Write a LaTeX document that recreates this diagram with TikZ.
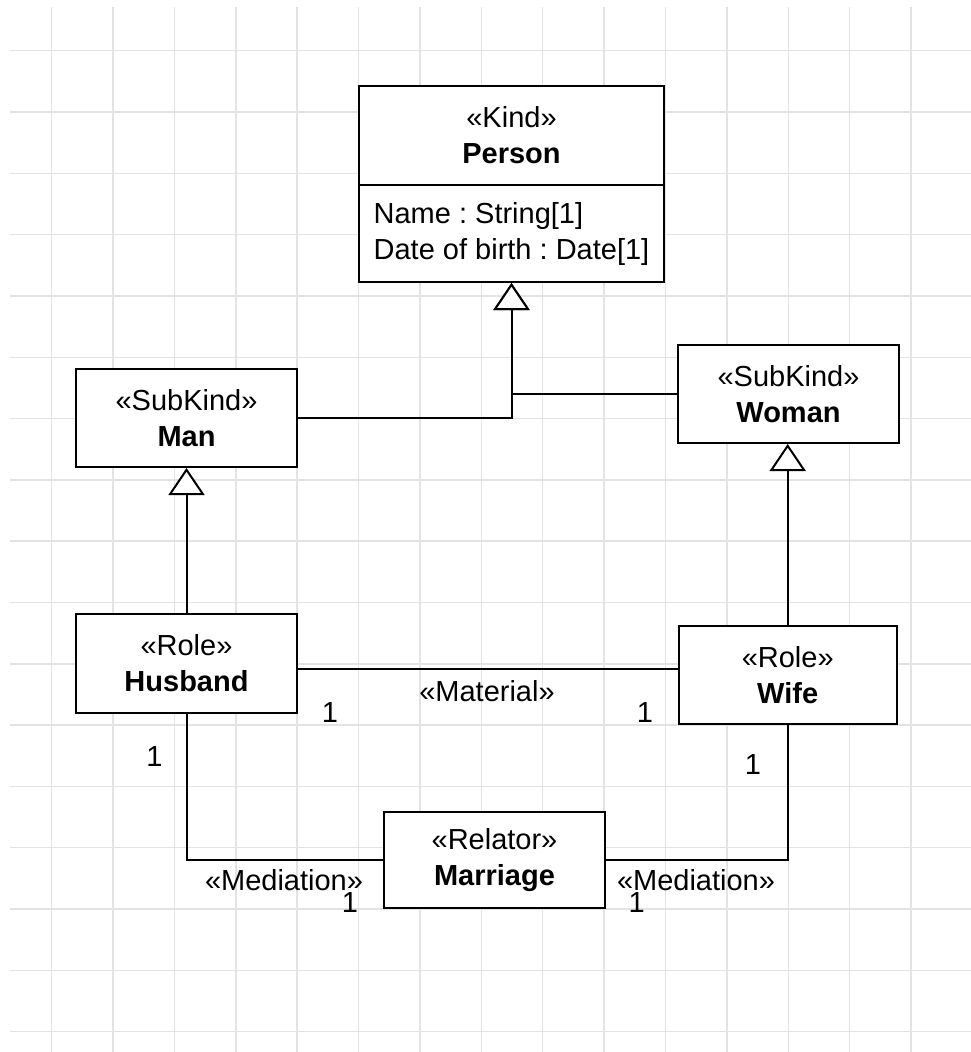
\documentclass[tikz,border=0pt]{standalone}
\usepackage{fontspec}
\setmainfont{Liberation Sans}
\usetikzlibrary{arrows.meta}
\frenchspacing
\begin{document}
\begin{tikzpicture}[x=1pt,y=-1pt,
  umlbox/.style={draw=black, line width=2pt, fill=white, inner sep=0pt,
    align=center, font=\fontsize{29}{36}\selectfont,
    execute at begin node={\rule{0pt}{27pt}}},
  gen/.style={draw=black, line width=2pt,
    -{Triangle[length=27pt,width=36pt,fill=white]}},
  assoc/.style={draw=black, line width=2pt},
  lbl/.style={inner sep=0pt, font=\fontsize{29}{36}\selectfont},
  gridline/.style={draw=black!11, line width=1.5pt}]
\useasboundingbox (0,0) rectangle (971,1052);
\fill[white] (0,0) rectangle (971,1052);

% background grid
\foreach \k in {0,...,14}
  \draw[gridline] ({51.7+61.38*\k},7) -- ({51.7+61.38*\k},1052);
\foreach \k in {0,...,16}
  \draw[gridline] (10,{50.7+61.31*\k}) -- (971,{50.7+61.31*\k});

% classes
\node[umlbox, minimum width=305pt, minimum height=99pt] (personhead) at (511.5,135.5)
  {«Kind»\\\textbf{Person}};
\node[umlbox, minimum width=305pt, minimum height=97pt, align=left] (personattr) at (511.5,233.5)
  {Name : String[1]\\Date of birth : Date[1]};
\node[umlbox, minimum width=221pt, minimum height=98pt] (man) at (186.5,418)
  {«SubKind»\\\textbf{Man}};
\node[umlbox, minimum width=220.5pt, minimum height=98pt] (woman) at (788.5,394)
  {«SubKind»\\\textbf{Woman}};
\node[umlbox, minimum width=221pt, minimum height=99pt] (husband) at (186.5,663.5)
  {«Role»\\\textbf{Husband}};
\node[umlbox, minimum width=218pt, minimum height=98pt] (wife) at (787.7,675)
  {«Role»\\\textbf{Wife}};
\node[umlbox, minimum width=221pt, minimum height=96pt] (marriage) at (494.5,860)
  {«Relator»\\\textbf{Marriage}};

% generalizations
\draw[gen] (man.east) -| (personattr.south);
\draw[gen] (woman.west) -| (personattr.south);
\draw[gen] (husband.north) -- (man.south);
\draw[gen] (wife.north) -- (wife.north |- woman.south);

% material relation
\path (husband.east) ++(0,5.5) coordinate (matL);
\draw[assoc] (matL) -- (matL -| wife.west);

% mediations
\draw[assoc] (husband.south) |- (marriage.west);
\draw[assoc] (wife.south) |- (marriage.east);

% labels and multiplicities
\node[lbl] (matlbl) at (487,691) {«Material»};
\node[lbl] (mulHusMat) at (330,713) {1};
\node[lbl] (mulWifeMat) at (645,713) {1};
\node[lbl] (mulHusMed) at (154.5,757) {1};
\node[lbl] (mulWifeMed) at (753,765) {1};
\node[lbl] (medlblL) at (284,880) {«Mediation»};
\node[lbl] (mulMarL) at (350,903) {1};
\node[lbl] (medlblR) at (696,880) {«Mediation»};
\node[lbl] (mulMarR) at (636.6,903) {1};
\end{tikzpicture}
\end{document}
